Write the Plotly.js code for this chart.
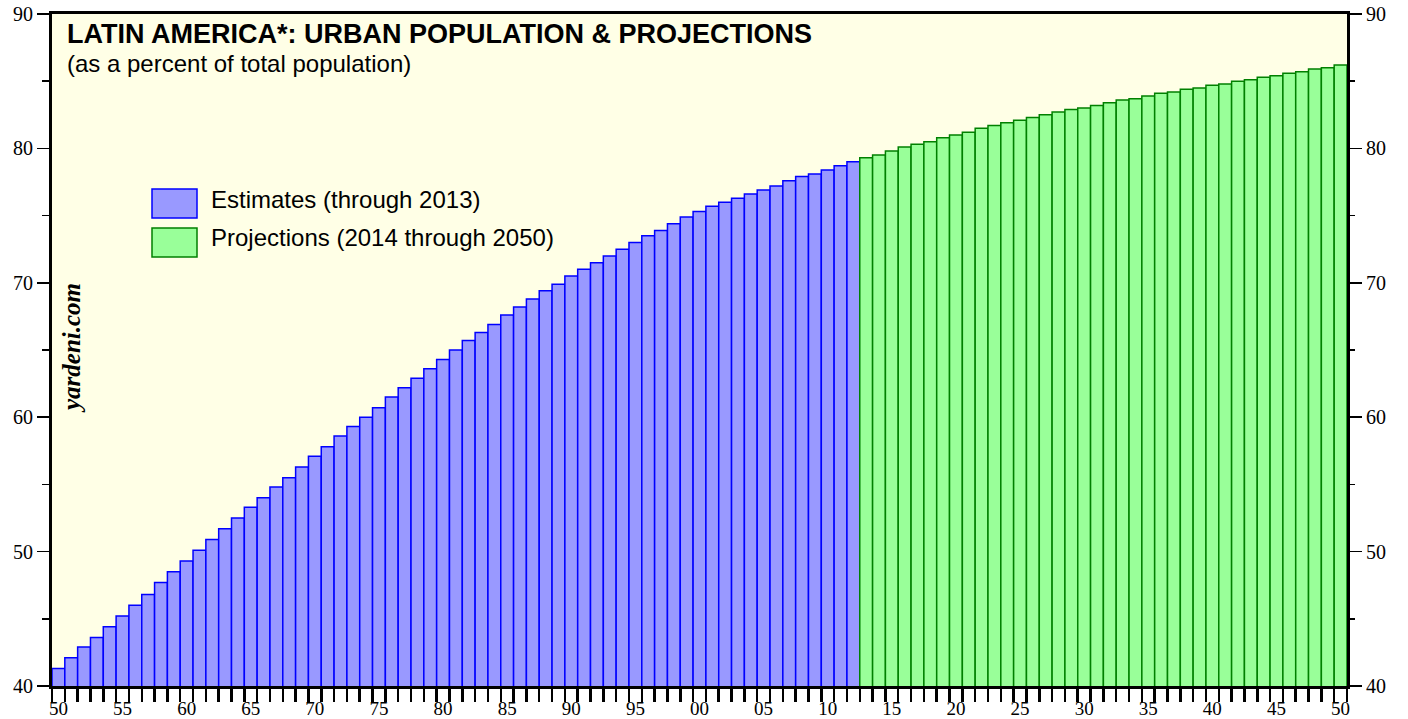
<!DOCTYPE html>
<html>
<head>
<meta charset="utf-8">
<script src="https://cdn.plot.ly/plotly-3.0.1.min.js"></script>
<style>
html,body{margin:0;padding:0;background:#fff;}
#chart{width:1408px;height:719px;}
</style>
</head>
<body>
<div id="chart"></div>
<script>
// ---- DATA ----
const estYears = [1950,1951,1952,1953,1954,1955,1956,1957,1958,1959,
  1960,1961,1962,1963,1964,1965,1966,1967,1968,1969,
  1970,1971,1972,1973,1974,1975,1976,1977,1978,1979,
  1980,1981,1982,1983,1984,1985,1986,1987,1988,1989,
  1990,1991,1992,1993,1994,1995,1996,1997,1998,1999,
  2000,2001,2002,2003,2004,2005,2006,2007,2008,2009,
  2010,2011,2012];
const estValues = [41.3,42.1,42.9,43.6,44.4,45.2,46.0,46.8,47.7,48.5,
  49.3,50.1,50.9,51.7,52.5,53.3,54.0,54.8,55.5,56.3,
  57.1,57.8,58.6,59.3,60.0,60.7,61.5,62.2,62.9,63.6,
  64.3,65.0,65.7,66.3,66.9,67.6,68.2,68.8,69.4,69.9,
  70.5,71.0,71.5,72.0,72.5,73.0,73.5,73.9,74.4,74.9,
  75.3,75.7,76.0,76.3,76.6,76.9,77.2,77.6,77.9,78.1,
  78.4,78.7,79.0];
const projYears = [2013,2014,2015,2016,2017,2018,2019,
  2020,2021,2022,2023,2024,2025,2026,2027,2028,2029,
  2030,2031,2032,2033,2034,2035,2036,2037,2038,2039,
  2040,2041,2042,2043,2044,2045,2046,2047,2048,2049,2050];
const projValues = [79.3,79.5,79.8,80.1,80.3,80.5,80.8,
  81.0,81.2,81.5,81.7,81.9,82.1,82.3,82.5,82.7,82.9,
  83.0,83.2,83.4,83.6,83.7,83.9,84.1,84.2,84.4,84.5,
  84.7,84.8,85.0,85.1,85.3,85.4,85.6,85.7,85.9,86.0,86.2];
const xTickVals = [1950,1955,1960,1965,1970,1975,1980,1985,1990,1995,2000,2005,2010,2015,2020,2025,2030,2035,2040,2045,2050];
const xTickText = ["50","55","60","65","70","75","80","85","90","95","00","05","10","15","20","25","30","35","40","45","50"];
const yTickVals = [40,50,60,70,80,90];
const titleText = "LATIN AMERICA*: URBAN POPULATION & PROJECTIONS";
const subtitleText = "(as a percent of total population)";
const legendEst = "Estimates (through 2013)";
const legendProj = "Projections (2014 through 2050)";
const sourceText = "yardeni.com";

// ---- LAYOUT HELPERS (pixel -> paper) ----
const W = 1408, H = 719;
const M = {l:52, r:61, t:14, b:33};
const PW = W - M.l - M.r, PH = H - M.t - M.b;
const px = x => (x - M.l) / PW;
const py = y => (H - M.b - y) / PH;

const blueFill = '#9999FF', blueLine = '#0000FF';
const greenFill = '#99FF99', greenLine = '#008000';

const traces = [
  {type:'bar', x:estYears, y:estValues, width:1,
   marker:{color:blueFill, line:{color:blueLine, width:1.5}},
   hoverinfo:'x+y', showlegend:false},
  {type:'bar', x:projYears, y:projValues, width:1,
   marker:{color:greenFill, line:{color:greenLine, width:1.5}},
   hoverinfo:'x+y', showlegend:false},
  {type:'scatter', mode:'markers', x:projYears, y:projValues, yaxis:'y2',
   marker:{opacity:0}, hoverinfo:'skip', showlegend:false}
];

const serif = 'Liberation Serif, Times New Roman, serif';
const sans = 'Liberation Sans, Arial, Helvetica, sans-serif';

const layout = {
  width:W, height:H,
  margin:{l:M.l, r:M.r, t:M.t, b:M.b, pad:0},
  paper_bgcolor:'#ffffff',
  plot_bgcolor:'#FFFFE6',
  barmode:'overlay',
  bargap:0,
  showlegend:false,
  xaxis:{
    range:[1949.5, 2050.5],
    tickmode:'array', tickvals:xTickVals, ticktext:xTickText,
    ticks:'outside', ticklen:3, tickcolor:'rgba(0,0,0,0)', tickwidth:1,
    tickfont:{family:serif, size:19, color:'#000'},
    minor:{tick0:1949.5, dtick:1, ticks:'outside', ticklen:13, tickwidth:2.5, tickcolor:'#000', showgrid:false},
    showline:true, linecolor:'#000', linewidth:3, mirror:true,
    showgrid:false, zeroline:false, fixedrange:true
  },
  yaxis:{
    range:[40,90],
    tickmode:'array', tickvals:yTickVals,
    ticks:'outside', ticklen:12, tickwidth:1.5, tickcolor:'#000',
    minor:{dtick:5, tick0:0, ticks:'outside', ticklen:7, tickwidth:1.5, tickcolor:'#000', showgrid:false},
    tickfont:{family:serif, size:20, color:'#000'},
    showline:true, linecolor:'#000', linewidth:3, mirror:true,
    showgrid:false, zeroline:false, fixedrange:true
  },
  yaxis2:{
    range:[40,90], overlaying:'y', side:'right',
    tickmode:'array', tickvals:yTickVals,
    ticks:'outside', ticklen:14, tickwidth:1.5, tickcolor:'#000',
    minor:{dtick:5, tick0:0, ticks:'outside', ticklen:7, tickwidth:1.5, tickcolor:'#000', showgrid:false},
    tickfont:{family:serif, size:20, color:'#000'},
    showline:false, showgrid:false, zeroline:false, fixedrange:true
  },
  shapes:[
    {type:'rect', xref:'paper', yref:'paper', x0:px(152), x1:px(197), y0:py(218), y1:py(189),
     fillcolor:blueFill, line:{color:blueLine, width:1.5}},
    {type:'rect', xref:'paper', yref:'paper', x0:px(152), x1:px(197), y0:py(257), y1:py(228),
     fillcolor:greenFill, line:{color:greenLine, width:1.5}}
  ],
  annotations:[
    {text:'<b>'+titleText+'</b>', xref:'paper', yref:'paper', x:px(65), y:py(34),
     xanchor:'left', yanchor:'middle', showarrow:false,
     font:{family:sans, size:27, color:'#000'}},
    {text:subtitleText, xref:'paper', yref:'paper', x:px(65), y:py(64),
     xanchor:'left', yanchor:'middle', showarrow:false,
     font:{family:sans, size:24, color:'#000'}},
    {text:legendEst, xref:'paper', yref:'paper', x:px(209), y:py(199),
     xanchor:'left', yanchor:'middle', showarrow:false,
     font:{family:sans, size:24, color:'#000'}},
    {text:legendProj, xref:'paper', yref:'paper', x:px(209), y:py(237),
     xanchor:'left', yanchor:'middle', showarrow:false,
     font:{family:sans, size:24, color:'#000'}},
    {text:'<b><i>'+sourceText+'</i></b>', xref:'paper', yref:'paper', x:px(71), y:py(348),
     xanchor:'center', yanchor:'middle', showarrow:false, textangle:-90,
     font:{family:serif, size:25, color:'#000'}}
  ]
};

Plotly.newPlot('chart', traces, layout, {displayModeBar:false, staticPlot:true});
</script>
</body>
</html>
